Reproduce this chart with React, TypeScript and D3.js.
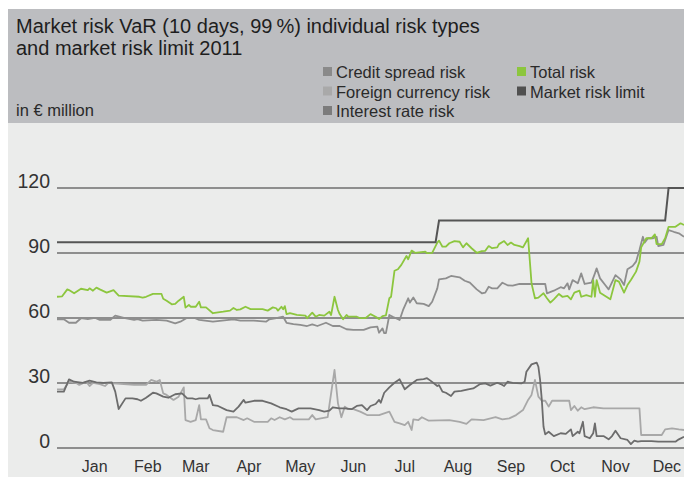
import React from 'react';
import * as d3 from 'd3';

const months = ['Jan', 'Feb', 'Mar', 'Apr', 'May', 'Jun', 'Jul', 'Aug', 'Sep', 'Oct', 'Nov', 'Dec'];
const monthStartDays = [0, 31, 59, 90, 120, 151, 181, 212, 243, 273, 304, 334];
const yTicks = [0, 30, 60, 90, 120];

// [day of year, € million]
const totalRisk: [number, number][] = [[0,69.8],[3,70],[6,73.2],[7,72.9],[10,71.4],[14,73.5],[18,72.9],[19,73.7],[21,72.6],[23,74],[25,73.2],[29,71.7],[33,72.9],[36,70.3],[48,69.8],[50,69.4],[52,69.8],[56,71.1],[61,71.1],[62,68.9],[64,68],[67,66.3],[69,66.5],[71,68],[74,69.8],[75,64.8],[77,66],[78,65.2],[81,65.2],[83,67.5],[84,64.9],[87,64.9],[91,62.2],[93,62.5],[97,62.9],[101,63.4],[103,64.6],[105,63.7],[107,64],[110,65.2],[113,64.1],[120,64.1],[123,63.4],[126,64.9],[128,64.5],[129,63.4],[131,65.2],[132,64],[133,65.5],[134,61.8],[136,62.2],[140,61.4],[145,61.1],[146,59.9],[149,62.5],[151,60.6],[153,61.4],[156,61.1],[159,62.9],[160,61.4],[162,69.8],[164,63.7],[165,61.8],[167,59.4],[169,61.4],[170,60.6],[175,60.6],[177,59.9],[180,59.9],[183,61.8],[186,60.6],[188,59.5],[190,60.9],[192,61.2],[194,69.1],[195,69.8],[197,81.8],[199,82.5],[201,84.5],[204,88.6],[205,87.1],[207,91.1],[209,90.1],[215,90.6],[216,89.9],[219,90.1],[222,94.8],[223,95.7],[225,92.9],[227,92.9],[229,94.5],[232,95.5],[235,95.2],[237,92.6],[239,94.5],[242,92.2],[245,90.1],[248,90.9],[250,91],[252,93.2],[254,92.2],[257,92.6],[258,94.1],[261,95.5],[263,93.7],[265,94.8],[267,93.7],[270,93.2],[272,92.6],[275,96.8],[277,76],[279,69.1],[281,69.4],[284,71.4],[286,69.1],[288,67.1],[290,68.6],[293,71.1],[295,69.8],[298,70.2],[300,68.6],[302,71.7],[305,72.6],[306,69.8],[309,70.6],[312,69.8],[313,77.5],[314,69.8],[315,77.5],[317,71.7],[323,68.6],[326,77.5],[328,76.8],[331,71.7],[333,75.2],[335,77.5],[338,81.4],[340,86],[341,92.6],[344,96.8],[347,96.8],[349,98.6],[350,94.1],[353,94.1],[355,96.8],[357,102.1],[361,102.1],[364,103.7],[366,102.9]];

const interestRateRisk: [number, number][] = [[0,59.4],[4,59.4],[7,57.8],[11,57.8],[14,59.9],[18,59.5],[22,60.1],[25,59.1],[31,59.1],[34,61.1],[39,60.1],[45,59.1],[47,59.5],[50,58.8],[58,59.1],[64,58.8],[69,57.5],[72,58.3],[76,60.1],[80,60.1],[83,59.1],[91,58.3],[103,59.4],[107,58.8],[115,58.8],[122,58.3],[124,59.4],[128,59.9],[132,60.6],[134,57.8],[138,57.2],[142,56.8],[146,56.3],[149,57.1],[152,56.3],[157,57.8],[161,56.3],[165,56.3],[169,54.8],[173,54.5],[179,54.5],[183,55.7],[187,56],[188,53.2],[190,55.2],[191,53],[192,53],[194,61.4],[196,60.6],[200,59.1],[202,63.7],[205,69.1],[206,67.1],[208,69.5],[210,66.8],[214,66.5],[217,65.5],[219,67.5],[222,73.7],[223,77.8],[227,78.3],[230,79.4],[235,78.8],[238,77.2],[241,76.3],[245,73.2],[248,71.4],[250,71.7],[252,74.4],[254,73.7],[257,73.7],[260,76.3],[263,75.1],[266,74.9],[270,75.7],[285,75.7],[286,71.4],[290,72.6],[294,74.2],[296,73.7],[298,76],[299,73.2],[301,77.5],[304,76],[306,80.6],[308,75.7],[312,76.3],[314,80.6],[315,82.9],[317,78.3],[320,75.2],[322,73.2],[326,79.8],[329,77.8],[331,75.2],[333,82.5],[336,84],[338,86],[340,91.4],[342,97.5],[343,94.8],[345,96.8],[348,96.8],[350,97.5],[351,93.2],[354,93.7],[357,100.6],[360,99.8],[363,99.1],[366,97.5]];

const creditSpreadRisk: [number, number][] = [[0,26],[4,26],[7,31.7],[10,30.6],[15,30.1],[19,31.1],[23,30.3],[27,30.1],[32,30.3],[34,26],[36,18],[40,22.9],[44,22.9],[47,22.5],[49,21.8],[52,23.2],[56,25.5],[58,25.2],[62,23.7],[65,23.2],[69,24.8],[73,25.2],[76,22.9],[79,22.9],[81,22.5],[83,22.9],[88,22.9],[89,24.5],[91,19.8],[94,19.4],[99,17.5],[103,16.8],[106,19.1],[109,22.2],[110,20.9],[115,21.8],[120,21.8],[125,20.6],[130,18.8],[134,17.9],[137,16.8],[141,18.3],[148,18.3],[153,17.5],[156,16.8],[159,17.2],[161,18.8],[165,18.3],[168,18.3],[172,17.9],[175,19.4],[178,19.8],[181,17.5],[183,19.4],[186,20.3],[188,22.2],[189,20.9],[191,25.5],[194,28],[197,30.1],[200,31.7],[203,27.1],[206,29.1],[210,31.4],[214,31.8],[216,32.2],[218,31.1],[222,28.6],[223,29],[225,26],[227,25.5],[230,24],[232,26],[236,26.4],[240,27.1],[243,27.5],[247,29.5],[250,29.8],[253,28.8],[257,30.1],[259,29.5],[261,28.6],[263,30.6],[266,30.1],[271,29.8],[273,30.6],[274,35.2],[277,38.6],[280,39.4],[281,37.5],[282,31.4],[283,22.2],[284,9.8],[285,6.3],[287,7.5],[290,5.5],[294,6.8],[297,6.5],[300,8.6],[301,5.5],[304,7.5],[305,6.8],[307,12.1],[308,5.5],[311,4.5],[313,6.8],[314,11.4],[315,5.5],[319,5.5],[322,4],[324,5.5],[326,8],[329,4.5],[333,3.7],[335,1.8],[337,3.4],[339,2.9],[341,3.2],[347,3.2],[351,2.9],[361,2.9],[363,4],[366,5.2]];

const foreignCurrencyRisk: [number, number][] = [[0,27.1],[4,27.1],[7,30.6],[11,30.1],[13,29.1],[17,30.6],[19,28.6],[21,30.1],[25,29.5],[28,28.6],[30,30.1],[33,29.8],[45,29.1],[52,29.1],[55,31.4],[58,30.6],[60,31.4],[62,25.2],[64,24.5],[68,22.2],[71,23.7],[74,28],[75,12.9],[78,12.1],[81,12.9],[83,19.8],[84,13.2],[87,13.2],[89,9.1],[91,8.3],[97,7.5],[99,14.2],[105,14.2],[109,12.9],[111,13.7],[115,12.1],[123,12.1],[125,13.7],[127,12.9],[130,14.2],[133,13.2],[136,14.2],[138,13.2],[147,13.2],[149,15.2],[151,13.2],[154,13.7],[158,14.2],[159,19.8],[162,36],[164,20.6],[166,14.2],[168,19.1],[170,17.9],[173,17.9],[177,16.8],[181,15.2],[188,15.2],[191,16],[194,16.8],[197,12.1],[200,11.4],[203,10.6],[205,12.1],[207,8.3],[208,13.2],[211,12.9],[213,14.2],[217,12.6],[229,12.9],[235,12.1],[239,11.1],[242,13.2],[249,12.9],[256,14.2],[260,13.2],[264,13.7],[268,15.2],[272,17.5],[275,22.2],[277,24.5],[279,31.4],[281,23.7],[283,21.8],[285,21.8],[287,19.1],[289,21.8],[299,21.8],[300,17.5],[302,19.4],[304,17.2],[306,18.8],[308,17.9],[313,18.8],[319,18.3],[340,18.3],[341,6],[353,6],[355,8.6],[359,9.1],[363,8.6],[366,8.3]];

const marketRiskLimit: [number, number][] = [[0,95],[221,95],[223,105],[355,105],[357,120],[366,120]];

const legendItems = [
  { label: 'Credit spread risk', color: '#8a8a8a', col: 0, row: 0 },
  { label: 'Foreign currency risk', color: '#a9a9a9', col: 0, row: 1 },
  { label: 'Interest rate risk', color: '#7c7c7c', col: 0, row: 2 },
  { label: 'Total risk', color: '#8cc63e', col: 1, row: 0 },
  { label: 'Market risk limit', color: '#505050', col: 1, row: 1 },
];

export default function App() {
  const W = 684, H = 477;
  const x = d3.scaleLinear().domain([0, 366]).range([57, 684]);
  const y = d3.scaleLinear().domain([0, 120]).range([448, 188]);
  const line = d3.line<[number, number]>().x(d => x(d[0])).y(d => y(d[1]));
  const font = "'Liberation Sans', Arial, sans-serif";

  const series = [
    { data: foreignCurrencyRisk, color: '#a8a8a8', w: 1.8 },
    { data: creditSpreadRisk, color: '#6c6c6c', w: 1.8 },
    { data: interestRateRisk, color: '#8e8e8e', w: 1.8 },
    { data: totalRisk, color: '#8cc63e', w: 1.8 },
  ];

  return (
    <svg width={W} height={H} style={{ position: 'absolute', left: 0, top: 0, display: 'block' }} fontFamily={font}>
      <rect x={0} y={0} width={W} height={H} fill="#ffffff" />
      <rect x={8} y={9} width={W - 8} height={114} fill="#bcbdc0" />
      <rect x={8} y={123} width={W - 8} height={H - 123} fill="#ebeceb" />
      <text x={16} y={33} fontSize={20} fill="#1e1e1e">{'Market risk VaR (10 days, 99\u2009%) individual risk types'}</text>
      <text x={16} y={55} fontSize={20} fill="#1e1e1e">and market risk limit 2011</text>
      <text x={16} y={116} fontSize={16.5} fill="#2a2a2a">in € million</text>
      {legendItems.map(it => {
        const lx = it.col === 0 ? 323 : 517;
        const ly = 78 + it.row * 19.5;
        return (
          <g key={it.label}>
            <rect x={lx} y={ly - 11} width={9} height={9} fill={it.color} />
            <text x={lx + 13} y={ly} fontSize={16.5} fill="#2a2a2a">{it.label}</text>
          </g>
        );
      })}
      {yTicks.map(t => (
        <g key={t}>
          <line x1={57} x2={W} y1={y(t)} y2={y(t)} stroke="#6f6f6f" strokeWidth={1.5} />
          <text x={50} y={y(t)} textAnchor="end" fontSize={19.5} fill="#333">{t}</text>
        </g>
      ))}
      {months.map((m, i) => (
        <text key={m} x={x(monthStartDays[i] + 22)} y={472} textAnchor="middle" fontSize={16} fill="#333">{m}</text>
      ))}
      {series.map((s, i) => (
        <path key={i} d={line(s.data) || ''} fill="none" stroke={s.color} strokeWidth={s.w} strokeLinejoin="round" />
      ))}
      <path d={line(marketRiskLimit) || ''} fill="none" stroke="#555" strokeWidth={2} />
    </svg>
  );
}
